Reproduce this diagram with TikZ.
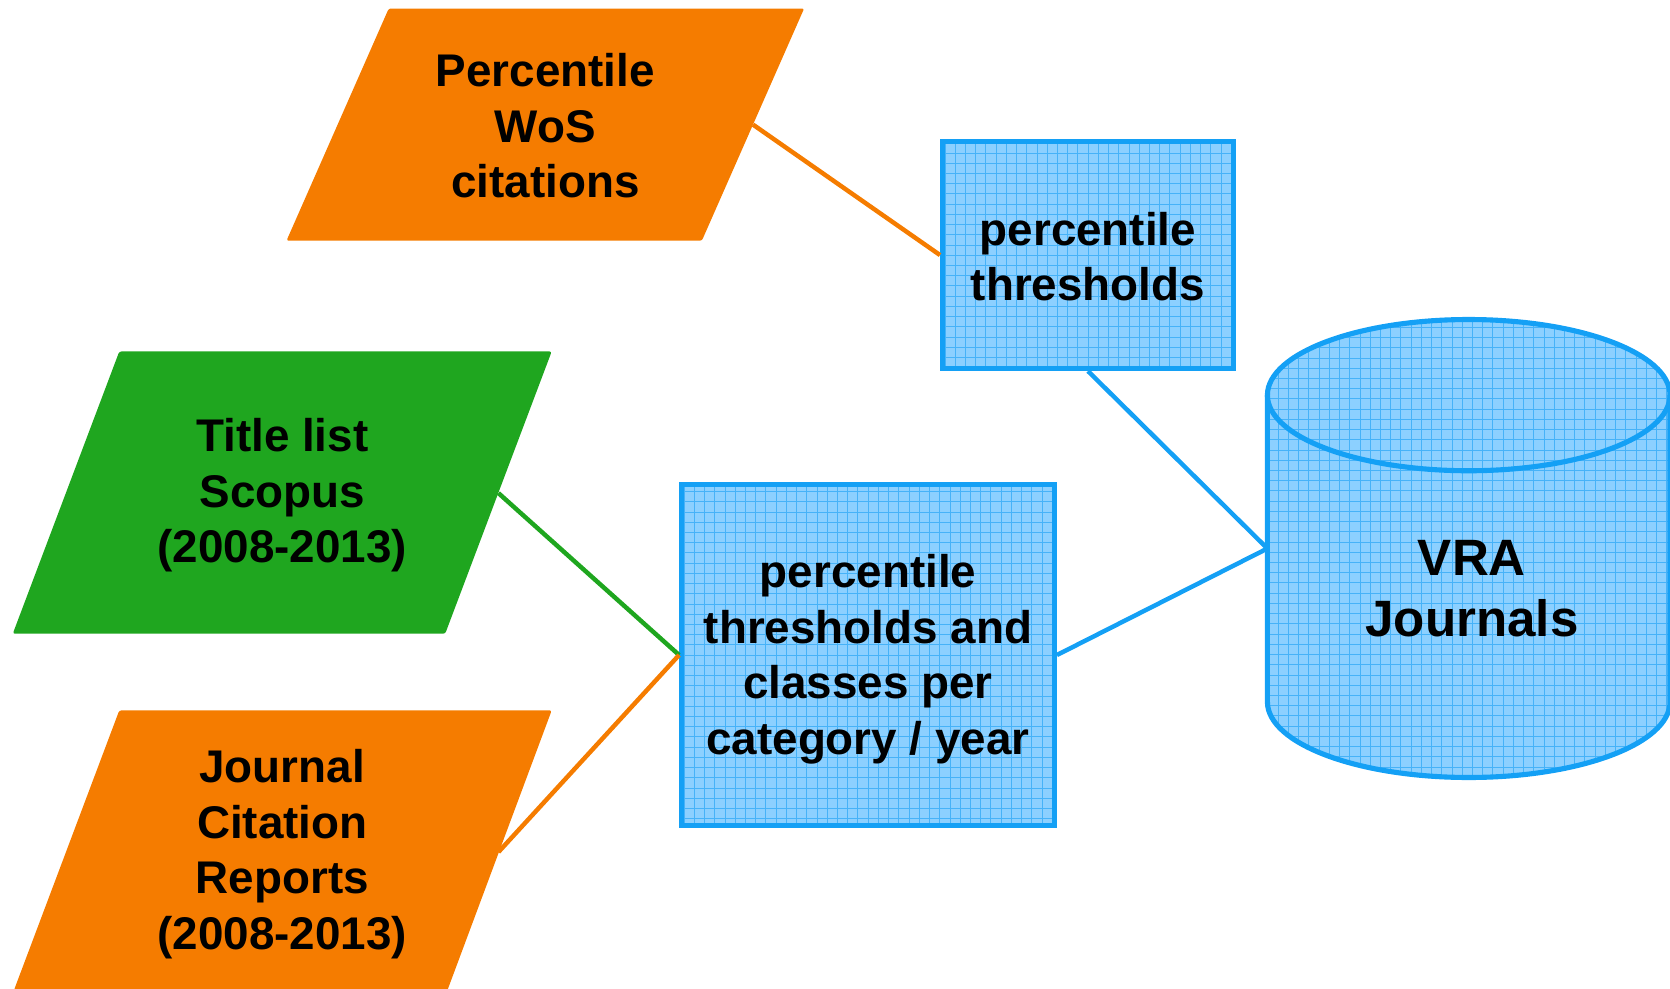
\documentclass[tikz,border=0pt]{standalone}
\usepackage{fontspec}
\setmainfont{Liberation Sans}
\definecolor{orng}{RGB}{245,124,0}
\definecolor{grn}{RGB}{31,166,31}
\definecolor{bluel}{RGB}{20,160,245}
\definecolor{bluef}{RGB}{140,208,255}
\definecolor{gridc}{RGB}{70,178,248}
\begin{document}
\begin{tikzpicture}[x=1pt,y=-1pt,
  lbl/.style={align=center,font=\fontsize{43}{52}\selectfont\bfseries,text=black,inner sep=0pt},
  biglbl/.style={align=center,font=\fontsize{48}{57}\selectfont\bfseries,text=black,inner sep=0pt},
  gridfill/.style={path picture={
    \fill[bluef] (path picture bounding box.south west) rectangle (path picture bounding box.north east);
    \draw[gridc,line width=0.6pt,step=9.6pt] (path picture bounding box.south west) grid (path picture bounding box.north east);}},
  procbox/.style={draw=bluel,line width=4.8pt,gridfill,inner sep=0pt},
  inshape/.style={rounded corners=2pt},
  conn/.style={line width=4.2pt}
]
\useasboundingbox (0,0) rectangle (1568,928);

% parallelograms
\fill[orng,inshape] (365,8) -- (755,8) -- (659,226) -- (269,226) -- cycle;
\fill[grn,inshape] (112,330) -- (518,330) -- (418,595) -- (12,595) -- cycle;
\fill[orng,inshape] (112,667) -- (518,667) -- (420,930) -- (13,930) -- cycle;
\coordinate (wosR) at (707,117);
\coordinate (scoR) at (468,463);
\coordinate (jcrR) at (468,800);

\node[lbl] (wos) at (512,118) {Percentile\\WoS\\citations};
\node[lbl] (sco) at (265,465) {Title list\\Scopus\\(2008-2013)};
\node[lbl] (jcr) at (265,802) {Journal\\Citation\\Reports\\(2008-2013)};

% process boxes
\node[procbox,minimum width=273pt,minimum height=213pt] (pt) at (1021.5,239.5) {};
\node[lbl] (ptl) at (1021.5,241) {percentile\\thresholds};
\node[procbox,minimum width=350pt,minimum height=320pt] (pc) at (815,615) {};
\node[lbl] (pcl) at (815,619) {percentile\\thresholds and\\classes per\\category / year};

% cylinder
\def\cylbody{(1190,371) -- (1190,659) arc[start angle=180,end angle=0,x radius=189,y radius=71] -- (1568,371) arc[start angle=0,end angle=-180,x radius=189,y radius=71] -- cycle}
\begin{scope}
  \clip \cylbody;
  \fill[bluef] (1180,290) rectangle (1580,740);
  \draw[gridc,line width=0.6pt,step=9.6pt] (1180,290) grid (1580,740);
\end{scope}
\draw[bluel,line width=4.8pt] (1190,371) -- (1190,659) arc[start angle=180,end angle=0,x radius=189,y radius=71] -- (1568,371);
\draw[bluel,line width=4.8pt] (1379,371) ellipse[x radius=189,y radius=71];
\coordinate (cylL) at (1190,515);
\node[biglbl] (vra) at (1382,553) {VRA\\Journals};

% connectors
\draw[orng,conn] (wosR) -- (pt.west);
\draw[bluel,conn] (pt.south) -- (cylL);
\draw[grn,conn] (scoR) -- (pc.west);
\draw[orng,conn] (jcrR) -- (pc.west);
\draw[bluel,conn] (pc.east) -- (cylL);
\end{tikzpicture}
\end{document}
